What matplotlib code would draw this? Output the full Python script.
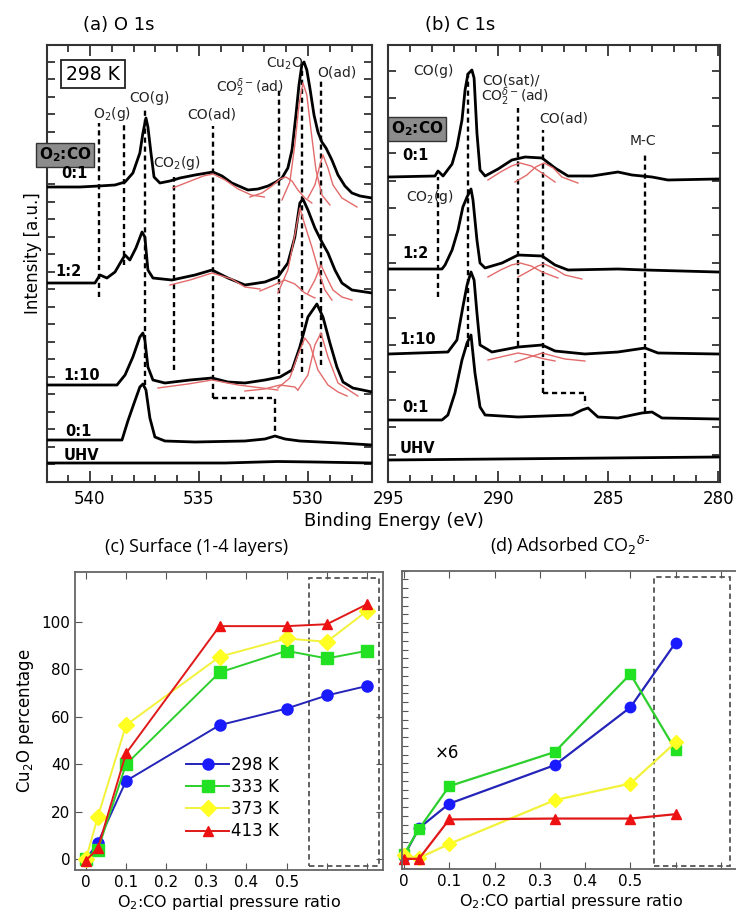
import matplotlib
matplotlib.use("Agg")
import matplotlib.pyplot as plt
from matplotlib.ticker import MultipleLocator, FixedLocator, NullFormatter
from matplotlib.patches import Rectangle

# ---------------- (a) O 1s spectra (binding energy eV, intensity a.u. incl. offset) ----------------
a_01_e = [541.97, 540.46, 539.59, 538.85, 538.39, 538.03, 537.71, 537.57, 537.43, 537.34, 537.20, 537.06,
          536.79, 536.33, 535.87, 535.18, 534.36, 533.94, 533.49, 532.75, 532.29, 531.83, 531.47, 531.19,
          530.92, 530.73, 530.55, 530.41, 530.28, 530.18, 530.05, 529.91, 529.72, 529.54, 529.36, 529.17,
          528.90, 528.62, 528.30, 527.98, 527.61, 527.06]
a_01_i = [295, 295, 296, 297, 300, 309, 329, 349, 364, 355, 329, 305,
          299, 301, 304, 307, 310, 306, 299, 292, 293, 296, 300, 304,
          314, 332, 367, 397, 417, 420, 412, 394, 367, 350, 340, 334,
          322, 307, 296, 289, 286, 284]

a_12_e = [542.06, 539.77, 539.54, 539.22, 538.85, 538.53, 538.39, 538.17, 537.89, 537.61, 537.48, 537.34,
          537.11, 536.24, 535.18, 534.40, 533.67, 532.89, 531.97, 531.38, 530.92, 530.60, 530.37, 530.23,
          530.00, 529.68, 529.36, 529.08, 528.76, 528.44, 527.98, 527.06]
a_12_i = [199, 199, 207, 204, 210, 222, 227, 222, 234, 250, 245, 212,
          204, 202, 207, 212, 204, 197, 200, 205, 219, 245, 279, 283,
          272, 254, 240, 229, 212, 199, 192, 189]

a_110_e = [542.06, 538.76, 538.39, 538.03, 537.71, 537.57, 537.48, 537.34, 537.11, 536.56, 535.41, 534.40,
           533.67, 532.89, 531.97, 531.28, 530.73, 530.37, 530.00, 529.59, 529.31, 528.99, 528.67, 528.39,
           527.94, 527.06]
a_110_i = [97, 97, 107, 125, 145, 149, 142, 115, 102, 99, 102, 104,
           100, 99, 102, 105, 112, 135, 165, 178, 165, 139, 115, 100,
           94, 90]

a_01b_e = [542.06, 538.53, 538.26, 537.94, 537.71, 537.57, 537.43, 537.25, 537.02, 536.56, 535.18, 532.89,
           531.97, 531.51, 531.05, 530.37, 528.53, 527.06]
a_01b_i = [42, 42, 61, 81, 95, 98, 92, 64, 45, 41, 40, 41, 43, 46, 43, 41, 39, 37]

a_uhv_e = [542.0, 537.5, 533.8, 531.4, 529.7, 527.06]
a_uhv_i = [19, 19, 19, 20.5, 20, 19]

# fitted components (red), (energies, intensities)
a_fit_01 = [
    ([536.2, 535.5, 534.8, 534.35, 533.8, 533.2, 532.6, 532.0], [294, 300, 306, 308, 302, 293, 287, 285]),
    ([532.66, 532.11, 531.65, 531.28, 531.01, 530.73, 530.46, 530.14, 529.82], [285, 289, 296, 303, 305, 301, 292, 284, 279]),
    ([531.19, 530.83, 530.60, 530.41, 530.23, 530.05, 529.86, 529.63, 529.36, 528.99], [282, 300, 337, 377, 399, 387, 352, 312, 287, 277]),
    ([530.0, 529.68, 529.45, 529.31, 529.08, 528.85, 528.44, 527.75], [284, 297, 317, 327, 314, 297, 284, 275]),
]
a_fit_12 = [
    ([536.33, 535.41, 534.40, 533.5, 532.89, 532.2], [197, 202, 209, 203, 195, 193]),
    ([532.2, 531.65, 531.06, 530.6, 530.14, 529.68], [191, 196, 202, 198, 189, 184]),
    ([531.38, 530.92, 530.6, 530.37, 530.14, 529.82, 529.45, 529.22, 528.9], [189, 212, 247, 274, 257, 235, 207, 192, 182]),
    ([530.0, 529.68, 529.40, 529.08, 528.85, 528.44, 527.98], [189, 202, 217, 202, 192, 185, 182]),
]
a_fit_110 = [
    ([536.88, 535.5, 534.40, 533.2, 532.11, 531.38], [94, 98, 102, 97, 94, 92]),
    ([532.89, 532.0, 531.28, 530.6, 530.46], [91, 93, 97, 95, 92]),
    ([531.38, 530.83, 530.46, 530.14, 529.9, 529.54, 529.08, 528.62, 528.2], [94, 104, 127, 144, 137, 112, 97, 90, 86]),
    ([530.46, 530.0, 529.68, 529.40, 529.08, 528.62, 527.71], [92, 107, 137, 149, 125, 99, 86]),
]

# peak markers (energy, top, bottom)
a_mark_e = [539.6, 538.44, 537.48, 536.15, 534.34, 531.32, 530.29, 529.42]
a_mark_top = [359, 359, 375, 305, 356, 392, 414, 404]
a_mark_bot = [185, 217, 97, 112, 84, 108, 110, 117]
a_step_e = [534.34, 531.5]
a_step_i = [84, 50]

# ---------------- (b) C 1s spectra ----------------
b_01_e = [295.0, 292.88, 292.74, 292.51, 292.10, 291.88, 291.65, 291.51, 291.38, 291.20, 291.10, 290.97,
          290.83, 290.60, 290.01, 289.38, 288.78, 288.01, 287.42, 286.83, 285.74, 284.56, 283.92, 283.01,
          282.29, 280.02]
b_01_i = [305, 306, 311, 306, 318, 335, 362, 392, 408, 412, 404, 349,
          312, 306, 313, 322, 325, 324, 314, 306, 306, 310, 307, 305,
          302, 303]

b_12_e = [295.0, 292.56, 292.42, 292.10, 291.83, 291.61, 291.42, 291.24, 291.15, 290.97, 290.83, 290.60,
          289.83, 289.10, 288.01, 287.42, 286.83, 284.56, 283.33, 280.02]
b_12_i = [213, 213, 217, 232, 252, 275, 285, 293, 282, 242, 219, 214,
          219, 227, 226, 217, 212, 213, 212, 210]

b_110_e = [295.0, 292.29, 291.88, 291.61, 291.42, 291.24, 291.10, 290.97, 290.83, 290.29, 289.10, 288.01,
           287.42, 286.06, 284.56, 283.33, 282.74, 280.02]
b_110_i = [128, 130, 142, 175, 197, 210, 202, 169, 137, 130, 135, 137,
           131, 128, 130, 134, 129, 128]

b_01b_e = [295.0, 292.56, 292.29, 291.97, 291.65, 291.42, 291.24, 291.06, 290.83, 290.60, 289.10, 286.65,
           286.19, 285.92, 285.47, 284.56, 283.47, 283.01, 282.56, 280.02]
b_01b_i = [62, 62, 67, 89, 122, 139, 147, 109, 75, 67, 65, 67,
           72, 74, 65, 64, 69, 70, 64, 63]

b_uhv_e = [295.0, 290.0, 285.0, 280.0]
b_uhv_i = [22, 23, 24, 25]

b_fit_01 = [
    ([290.47, 289.9, 289.4, 289.01, 288.5, 288.01, 287.42], [302, 310, 316, 319, 316, 309, 300]),
    ([289.24, 288.7, 288.3, 287.92, 287.5, 287.11, 286.38], [300, 307, 315, 319, 314, 305, 299]),
]
b_fit_12 = [
    ([290.47, 289.9, 289.4, 289.01, 288.5, 288.01, 287.29], [205, 212, 217, 219, 216, 210, 204]),
    ([289.10, 288.6, 288.2, 287.92, 287.5, 286.97, 286.20], [205, 211, 216, 218, 214, 207, 203]),
]
b_fit_110 = [
    ([290.47, 289.70, 289.1, 288.6, 287.9, 287.42], [122, 126, 129, 127, 123, 121]),
    ([289.24, 288.56, 288.0, 287.5, 286.97, 286.06], [120, 125, 129, 126, 123, 121]),
]

b_mark_e = [292.75, 291.39, 289.09, 287.95, 283.33]
b_mark_top = [305, 409, 374, 352, 330]
b_mark_bot = [185, 135, 136, 89, 70]
b_step_e = [287.95, 286.06]
b_step_i = [89, 77]

# ---------------- (c) surface Cu2O percentage ----------------
ratio_c = [0, 0.03, 0.1, 0.333, 0.5, 0.6, 0.7]
cu2o_298 = [0, 7, 33, 56.5, 63.5, 69, 73]
cu2o_333 = [0, 4, 40, 78.7, 87.8, 84.6, 87.8]
cu2o_373 = [0, 18, 56.5, 85.3, 93, 91.6, 104.6]
cu2o_413 = [-0.5, 4.6, 44.6, 98.2, 98.2, 99, 107.4]

# ---------------- (d) adsorbed CO2 (a.u.) ----------------
ratio_d = [0, 0.033, 0.1, 0.333, 0.5, 0.6]
co2_298 = [0.4, 3.6, 6.4, 10.8, 17.4, 24.8]
co2_333 = [0.6, 3.5, 8.4, 12.3, 21.2, 12.5]
co2_373 = [0.5, 0.2, 1.8, 6.8, 8.7, 13.4]
co2_413 = [0.1, 0.1, 4.6, 4.7, 4.7, 5.2]

temps = ["298 K", "333 K", "373 K", "413 K"]
line_cols = ["#2424b8", "#2ccf2c", "#f2f23a", "#e01818"]
mark_cols = ["#1a1aff", "#22e022", "#ffff22", "#ee1111"]
markers = ["o", "s", "D", "^"]

W, H = 736, 918
fig = plt.figure(figsize=(W / 100, H / 100), dpi=100)


def px_axes(x0, y0, x1, y1):
    return fig.add_axes([x0 / W, 1 - y1 / H, (x1 - x0) / W, (y1 - y0) / H])


def ftext(x, y, s, **kw):
    kw.setdefault("ha", "center")
    kw.setdefault("va", "center")
    return fig.text(x / W, 1 - y / H, s, **kw)


def spec_axes(ax, xlim, ystep, xticks):
    ax.set_xlim(*xlim)
    ax.set_ylim(0, 437)
    ax.xaxis.set_major_locator(FixedLocator(xticks))
    ax.xaxis.set_minor_locator(MultipleLocator(1))
    ax.yaxis.set_major_locator(MultipleLocator(ystep))
    ax.yaxis.set_major_formatter(NullFormatter())
    ax.tick_params(which="both", direction="in", top=True, right=True, width=1.3, color="#333333")
    ax.tick_params(which="major", length=8, labelsize=12, pad=6)
    ax.tick_params(axis="y", which="major", length=6)
    ax.tick_params(which="minor", length=5)
    for s in ax.spines.values():
        s.set_linewidth(1.5)
        s.set_color("#333333")


dash = (0, (2.2, 1.6))

# ---- panel (a) ----
ax = px_axes(47, 45, 372, 482)
spec_axes(ax, (541.97, 527.06), 17.5, [540, 535, 530])
for e, i in [(a_01_e, a_01_i), (a_12_e, a_12_i), (a_110_e, a_110_i), (a_01b_e, a_01b_i), (a_uhv_e, a_uhv_i)]:
    ax.plot(e, i, color="black", lw=2.0, zorder=3)
for comps in [a_fit_01, a_fit_12, a_fit_110]:
    for e, i in comps:
        ax.plot(e, i, color="#e36a6a", lw=1.0, zorder=4)
ax.vlines(a_mark_e, a_mark_bot, a_mark_top, colors="black", lw=1.7, linestyles=dash, zorder=2)
ax.plot([a_step_e[0], a_step_e[0], a_step_e[1], a_step_e[1]],
        [a_mark_bot[4], a_step_i[0], a_step_i[0], a_step_i[1]], color="black", lw=1.7, ls=dash)

# ---- panel (b) ----
bx = px_axes(388.3, 45, 720, 482)
spec_axes(bx, (295, 279.92), 27.4, [295, 290, 285, 280])
for e, i in [(b_01_e, b_01_i), (b_12_e, b_12_i), (b_110_e, b_110_i), (b_01b_e, b_01b_i), (b_uhv_e, b_uhv_i)]:
    bx.plot(e, i, color="black", lw=2.0, zorder=3)
for comps in [b_fit_01, b_fit_12, b_fit_110]:
    for e, i in comps:
        bx.plot(e, i, color="#e36a6a", lw=1.0, zorder=4)
bx.vlines(b_mark_e, b_mark_bot, b_mark_top, colors="black", lw=1.7, linestyles=dash, zorder=2)
bx.plot([b_step_e[0], b_step_e[0], b_step_e[1], b_step_e[1]],
        [b_mark_bot[3], b_step_i[0], b_step_i[0], b_step_i[1]], color="black", lw=1.7, ls=dash)

# labels for the spectra
ftext(119, 25, "(a) O 1s", fontsize=13)
ftext(460, 25, "(b) C 1s", fontsize=13)
ftext(33, 253, "Intensity [a.u.]", fontsize=12, rotation=90)
ftext(394, 521, "Binding Energy (eV)", fontsize=13)
ftext(93, 74, "298 K", fontsize=13.5,
      bbox=dict(boxstyle="square,pad=0.25", fc="white", ec="#222222", lw=1.3))
for xx, yy in [(65, 155), (417, 129)]:
    ftext(xx, yy, "O$_\\mathbf{2}$:CO", fontsize=11, fontweight="bold",
          bbox=dict(boxstyle="square,pad=0.15", fc="#8c8c8c", ec="#333333", lw=1.0))
for xx, yy, s in [(74, 174, "0:1"), (68, 272, "1:2"), (82, 376, "1:10"), (78, 431, "0:1"), (81, 456, "UHV"),
                  (415, 155, "0:1"), (415, 253, "1:2"), (418, 339, "1:10"), (415, 407, "0:1"), (417, 449, "UHV")]:
    ftext(xx, yy, s, fontsize=10.5, fontweight="bold")
for xx, yy, s in [(112, 114, "O$_2$(g)"), (149, 98, "CO(g)"), (212, 115, "CO(ad)"), (177, 163, "CO$_2$(g)"),
                  (250, 88, "CO$_2^{\\delta-}$(ad)"), (285, 64, "Cu$_2$O"), (337, 72, "O(ad)"),
                  (433, 71, "CO(g)"), (511, 80, "CO(sat)/"), (515, 97, "CO$_2^{\\delta-}$(ad)"),
                  (564, 118, "CO(ad)"), (643, 141, "M-C"), (430, 197, "CO$_2$(g)")]:
    ftext(xx, yy, s, fontsize=10, color="#222222")

# ---- panel (c) ----
cx = px_axes(75, 572, 383, 870)
cx.set_xlim(-0.027, 0.74)
cx.set_ylim(-4.5, 121)
for k in range(4):
    y = [cu2o_298, cu2o_333, cu2o_373, cu2o_413][k]
    cx.plot(ratio_c, y, color=line_cols[k], lw=1.4, marker=markers[k], ms=8 if k < 3 else 7.5,
            mfc=mark_cols[k], mec=mark_cols[k], label=temps[k], clip_on=False)
cx.add_patch(Rectangle((0.555, -2.7), 0.176, 121.1, fill=False, ec="#555555", lw=1.3, ls=(0, (3, 2))))
cx.xaxis.set_major_locator(FixedLocator([0, 0.1, 0.2, 0.3, 0.4, 0.5, 0.6, 0.7]))
cx.set_xticklabels(["0", "0.1", "0.2", "0.3", "0.4", "0.5", "", ""])
cx.yaxis.set_major_locator(FixedLocator([0, 20, 40, 60, 80, 100]))
cx.tick_params(direction="in", top=True, right=True, length=5, labelsize=11, color="#555555")
for s in cx.spines.values():
    s.set_color("#666666")
    s.set_linewidth(1.3)
cx.set_ylabel("Cu$_2$O percentage", fontsize=12, labelpad=4)
cx.set_xlabel("O$_2$:CO partial pressure ratio", fontsize=11.5, labelpad=2)
cx.legend(loc="upper left", bbox_to_anchor=(186 / W, 1 - 756 / H), bbox_transform=fig.transFigure,
          frameon=False, fontsize=12, handlelength=2.6, handletextpad=0.1, labelspacing=0.25,
          borderpad=0, borderaxespad=0)
ftext(197, 547, "(c) Surface (1-4 layers)", fontsize=13, family="Open Sans")

# ---- panel (d) ----
dx = px_axes(401.7, 570.7, 740, 869)
dx.set_xlim(-0.005, 0.742)
dx.set_ylim(-1.06, 33.0)
for k in range(4):
    y = [co2_298, co2_333, co2_373, co2_413][k]
    dx.plot(ratio_d, y, color=line_cols[k], lw=1.6, marker=markers[k], ms=7.5 if k < 3 else 7,
            mfc=mark_cols[k], mec=mark_cols[k], clip_on=False)
dx.add_patch(Rectangle((0.551, -0.68), 0.169, 32.98, fill=False, ec="#555555", lw=1.3, ls=(0, (3, 2))))
dx.xaxis.set_major_locator(FixedLocator([0, 0.1, 0.2, 0.3, 0.4, 0.5, 0.6, 0.7]))
dx.set_xticklabels(["0", "0.1", "0.2", "0.3", "0.4", "0.5", "", ""])
dx.yaxis.set_major_locator(MultipleLocator(1))
dx.yaxis.set_major_formatter(NullFormatter())
dx.tick_params(direction="in", top=True, length=5, labelsize=11, color="#555555")
dx.tick_params(axis="y", length=4)
for s in dx.spines.values():
    s.set_color("#666666")
    s.set_linewidth(1.3)
dx.set_xlabel("O$_2$:CO partial pressure ratio", fontsize=11.5, labelpad=2)
dx.text(0.095, 12.2, "\u00d76", fontsize=12, ha="center", va="center")
ftext(570, 545, "(d) Adsorbed CO$_2$$^{\\delta\\text{-}}$", fontsize=13, family="Open Sans")

fig.savefig("out.png", dpi=100)
